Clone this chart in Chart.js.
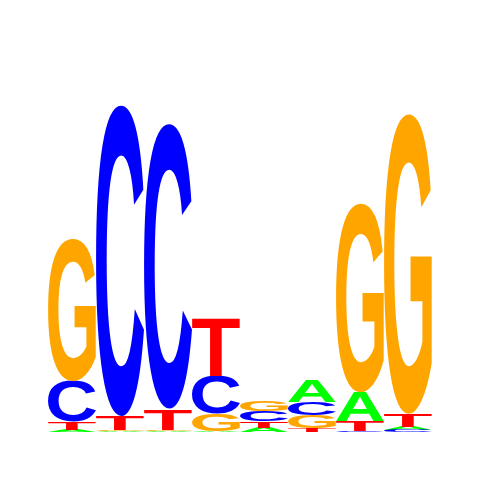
<!DOCTYPE html>
<html>
<head>
<meta charset="utf-8">
<script src="https://cdn.jsdelivr.net/npm/chart.js@4"></script>
<style>
  html, body { margin: 0; padding: 0; background: #fff; }
  #wrap { width: 480px; height: 480px; }
</style>
</head>
<body>
<div id="wrap"><canvas id="logo"></canvas></div>
<script>
// --- Data: information content (bits) per letter and position ---
const positions = ['1', '2', '3', '4', '5', '6', '7', '8'];
const letters = ['A', 'C', 'G', 'T'];
const heightA = [0.010, 0.004, 0.005, 0.005, 0.023, 0.115, 0.151, 0.016];
const heightC = [0.214, 1.620, 1.484, 0.198, 0.055, 0.068, 0.004, 0.010];
const heightG = [0.745, 0.006, 0.008, 0.089, 0.057, 0.066, 0.984, 1.563];
const heightT = [0.042, 0.073, 0.109, 0.302, 0.031, 0.021, 0.052, 0.068];
const letterColors = ['#00ff00', '#0000ff', '#ffa500', '#ff0000'];

const heights = [heightA, heightC, heightG, heightT];

// Stack letters per column: smallest at the bottom, largest on top
function buildRanges() {
    const ranges = letters.map(() => []);
    positions.forEach((p, i) => {
        const order = letters.map((l, k) => k).sort((a, b) => heights[a][i] - heights[b][i]);
        let base = 0;
        order.forEach(k => {
            ranges[k][i] = [base, base + heights[k][i]];
            base += heights[k][i];
        });
    });
    return ranges;
}

// --- Plugin: draw each letter stretched into its bar box ---
const letterPlugin = {
    id: 'letterPlugin',
    afterDatasetsDraw(chart) {
        const ctx = chart.ctx;
        chart.data.datasets.forEach((ds, di) => {
            const meta = chart.getDatasetMeta(di);
            ctx.save();
            ctx.font = 'bold 200px "Liberation Sans", Arial, sans-serif';
            ctx.fillStyle = ds.letterColor;
            ctx.textBaseline = 'alphabetic';
            ctx.textAlign = 'left';
            const m = ctx.measureText(ds.label);
            const gw = m.actualBoundingBoxLeft + m.actualBoundingBoxRight;
            const gh = m.actualBoundingBoxAscent + m.actualBoundingBoxDescent;
            meta.data.forEach(bar => {
                const p = bar.getProps(['x', 'y', 'base', 'width'], true);
                const top = Math.min(p.y, p.base);
                const h = Math.abs(p.base - p.y);
                if (h <= 0) return;
                ctx.save();
                ctx.translate(p.x - p.width / 2, top);
                ctx.scale(p.width / gw, h / gh);
                ctx.fillText(ds.label, m.actualBoundingBoxLeft, m.actualBoundingBoxAscent);
                ctx.restore();
            });
            ctx.restore();
        });
    }
};

function renderLogo() {
    const ranges = buildRanges();
    new Chart(document.getElementById('logo'), {
        type: 'bar',
        data: {
            labels: positions,
            datasets: letters.map((l, k) => ({
                label: l,
                data: ranges[k],
                letterColor: letterColors[k],
                backgroundColor: 'rgba(0,0,0,0)',
                borderWidth: 0,
                grouped: false,
                barPercentage: 1,
                categoryPercentage: 1
            }))
        },
        options: {
            responsive: true,
            maintainAspectRatio: false,
            animation: false,
            layout: { padding: { left: 48, right: 48, top: 48, bottom: 48 } },
            plugins: {
                legend: { display: false },
                tooltip: { enabled: false }
            },
            scales: {
                x: { display: false },
                y: { display: false, min: 0, max: 2 }
            }
        },
        plugins: [letterPlugin]
    });
}

document.addEventListener('DOMContentLoaded', renderLogo);
</script>
</body>
</html>
